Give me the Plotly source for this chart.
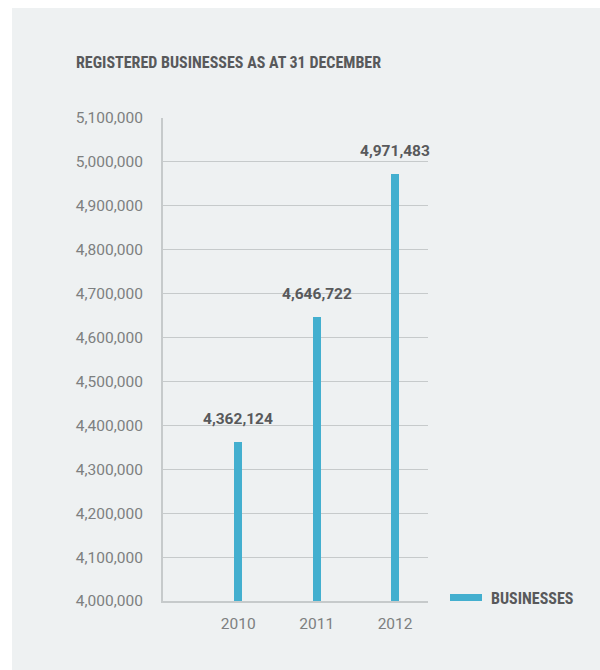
import plotly.graph_objects as go

# Registered businesses at 31 December
years = ["2010", "2011", "2012"]
businesses = [4362124, 4646722, 4971483]
value_labels = ["4,362,124", "4,646,722", "4,971,483"]
y_ticks = list(range(4000000, 5100001, 100000))
y_tick_text = [f"{v:,}" for v in y_ticks]

BAR = "#43afcf"
CARD = "#eef1f2"
GRID = "#c6cacb"
DARK = "#58595b"
MUTED = "#7d7f80"
NARROW = "Liberation Sans Narrow, Roboto Condensed, Roboto"

xpos = list(range(len(years)))

fig = go.Figure()
fig.add_trace(go.Bar(
    x=xpos, y=businesses, width=0.1,
    marker=dict(color=BAR, line=dict(width=0)),
    showlegend=False, hoverinfo="skip",
))

# value labels above each bar
for xv, yv, txt in zip(xpos, businesses, value_labels):
    fig.add_annotation(x=xv, y=yv, text=f"<b>{txt}</b>", showarrow=False,
                       yanchor="bottom", yshift=12,
                       font=dict(family="Roboto", size=15.5, color=DARK))

L, R, T, B = 163, 172, 118, 69
PW, PH = 600 - L - R, 670 - T - B

def px_x(p):
    return (p - L) / PW

def px_y(p):
    return (670 - B - p) / PH

shapes = [
    # background card
    dict(type="rect", xref="paper", yref="paper", layer="below",
         x0=px_x(12), x1=px_x(600), y0=px_y(670), y1=px_y(8),
         fillcolor=CARD, line=dict(width=0)),
    # legend swatch
    dict(type="rect", xref="paper", yref="paper",
         x0=px_x(450), x1=px_x(482), y0=px_y(601), y1=px_y(594),
         fillcolor=BAR, line=dict(width=0)),
]

annotations = [
    dict(xref="paper", yref="paper", x=px_x(74), y=px_y(63),
         xanchor="left", yanchor="middle", showarrow=False,
         text="<b>REGISTERED BUSINESSES AS AT 31 DECEMBER</b>",
         font=dict(family=NARROW, size=16, color=DARK)),
    dict(xref="paper", yref="paper", x=px_x(489), y=px_y(598),
         xanchor="left", yanchor="middle", showarrow=False,
         text="<b>BUSINESSES</b>",
         font=dict(family=NARROW, size=16, color=DARK)),
]

fig.update_layout(
    width=600, height=670,
    margin=dict(l=L, r=R, t=T, b=B),
    paper_bgcolor="white", plot_bgcolor=CARD,
    shapes=shapes,
    xaxis=dict(range=[-0.96, 2.42], tickvals=xpos, ticktext=years,
               showgrid=False, zeroline=False, showline=True,
               linecolor=GRID, linewidth=2, ticks="",
               tickfont=dict(family="Roboto", size=15.5, color=MUTED),
               ticklabelstandoff=7),
    yaxis=dict(range=[4000000, 5100000], tickvals=y_ticks, ticktext=y_tick_text,
               showgrid=True, gridcolor=GRID, gridwidth=1, zeroline=False,
               showline=True, linecolor=GRID, linewidth=2, ticks="",
               tickfont=dict(family="Roboto", size=15.5, color=MUTED),
               ticklabelstandoff=15),
    bargap=0,
    font=dict(family="Roboto"),
)
for a in annotations:
    fig.add_annotation(**a)

fig.write_html("out.html")
